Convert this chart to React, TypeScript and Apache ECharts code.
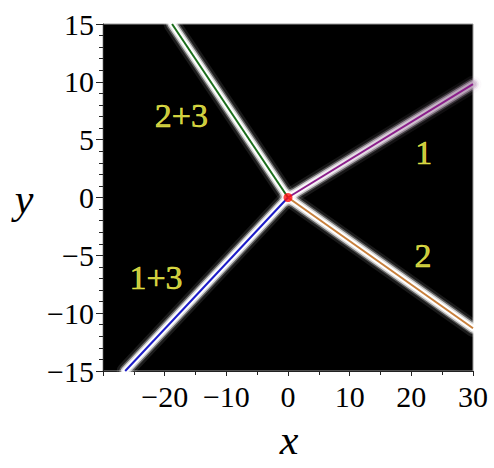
import React, { useEffect, useRef } from 'react';
import * as echarts from 'echarts';

// ---- data ----
const rayNames = ['1', '2', '2+3', '1+3'];
const rayEndX = [30, 30, -18.8, -26.4];
const rayEndY = [9.8, -11.3, 15, -15];
const rayColors = ['#8b1f8b', '#c8803c', '#1b6e1b', '#1c1cc8'];
const originPoint = [0, 0];

const labelTexts = ['2+3', '1+3', '1', '2'];
const labelX = [-17.3, -21.4, 22.0, 21.9];
const labelY = [7.1, -6.9, 3.9, -5.0];

const xMin = -30, xMax = 30, xStep = 10;
const yMin = -15, yMax = 15, yStep = 5;
const hiddenXTicks = [-30];

const SERIF = 'Liberation Serif';

function fmtTick(v: number): string {
  if (v < 0) return '\u2212' + Math.abs(v);
  return String(v);
}

export default function App() {
  const ref = useRef<HTMLDivElement>(null);
  useEffect(() => {
    const chart = echarts.init(ref.current!, null, { renderer: 'svg' });
    const glowWidths = [17, 12, 9, 6];
    const glowAlphas = [0.1, 0.3, 0.7, 1];
    const series: any[] = [];
    rayNames.forEach((name, i) => {
      glowWidths.forEach((w, k) => {
        const a = glowAlphas[k];
        const color =
          i === 0
            ? new echarts.graphic.LinearGradient(0, 0, 1, 0, [
                { offset: 0, color: `rgba(255,255,255,${a})` },
                { offset: 1, color: `rgba(205,180,205,${a * 0.7})` },
              ])
            : `rgba(255,255,255,${a})`;
        series.push({
          type: 'line',
          name: 'glow ' + name,
          data: [originPoint, [rayEndX[i], rayEndY[i]]],
          symbol: 'none',
          silent: true,
          clip: true,
          lineStyle: { width: w, color, cap: 'round' },
          z: 2,
        });
      });
    });
    rayNames.forEach((name, i) => {
      series.push({
        type: 'line',
        name: 'ray ' + name,
        data: [originPoint, [rayEndX[i], rayEndY[i]]],
        symbol: 'none',
        silent: true,
        clip: true,
        lineStyle: { width: 2, color: rayColors[i] },
        z: 3,
      });
    });
    series.push({
      type: 'scatter',
      name: 'origin',
      data: [originPoint],
      symbolSize: 9,
      itemStyle: { color: '#ff1010' },
      z: 4,
    });
    series.push({
      type: 'scatter',
      name: 'labels',
      data: labelTexts.map((t, i) => ({ name: t, value: [labelX[i], labelY[i]] })),
      symbolSize: 1,
      itemStyle: { color: 'rgba(0,0,0,0)' },
      label: {
        show: true,
        position: 'inside',
        formatter: '{b}',
        color: '#ffff50',
        textBorderWidth: 0.6,
        textBorderColor: '#ffff50',
        fontSize: 34,
        fontFamily: SERIF,
      },
      z: 5,
    });

    const option: any = {
      animation: false,
      backgroundColor: '#ffffff',
      grid: {
        left: 103,
        right: 21,
        top: 24,
        bottom: 97,
        show: true,
        backgroundColor: '#000000',
        borderColor: '#9a9a9a',
        borderWidth: 1,
      },
      xAxis: {
        type: 'value',
        min: xMin,
        max: xMax,
        interval: xStep,
        axisLine: { show: true, onZero: false, lineStyle: { color: '#222', width: 1 } },
        axisTick: { show: true, inside: false, length: 5, lineStyle: { color: '#222' } },
        minorTick: { show: true, splitNumber: 2, length: 4, lineStyle: { color: '#222' } },
        splitLine: { show: false },
        axisLabel: {
          margin: 10,
          fontSize: 30,
          fontFamily: SERIF,
          color: '#000',
          formatter: (v: number) => (hiddenXTicks.includes(v) ? '' : fmtTick(v)),
        },
      },
      yAxis: {
        type: 'value',
        min: yMin,
        max: yMax,
        interval: yStep,
        axisLine: { show: true, onZero: false, lineStyle: { color: '#222', width: 1 } },
        axisTick: { show: true, inside: false, length: 7, lineStyle: { color: '#222' } },
        minorTick: { show: true, splitNumber: 5, length: 4, lineStyle: { color: '#222' } },
        splitLine: { show: false },
        axisLabel: {
          margin: 9,
          fontSize: 30,
          fontFamily: SERIF,
          color: '#000',
          formatter: (v: number) => fmtTick(v),
        },
      },
      graphic: [
        {
          type: 'text',
          x: 24,
          y: 199,
          style: {
            text: 'y',
            fontSize: 42,
            fontStyle: 'italic',
            fontFamily: SERIF,
            fill: '#000',
            align: 'center',
            verticalAlign: 'middle',
          },
        },
        {
          type: 'text',
          x: 289,
          y: 440,
          style: {
            text: 'x',
            fontSize: 42,
            fontStyle: 'italic',
            fontFamily: SERIF,
            fill: '#000',
            align: 'center',
            verticalAlign: 'middle',
          },
        },
      ],
      series,
    };
    chart.setOption(option);
    return () => chart.dispose();
  }, []);
  return (
    <div
      ref={ref}
      style={{ position: 'fixed', left: 0, top: 0, width: 494, height: 468, background: '#fff' }}
    />
  );
}
